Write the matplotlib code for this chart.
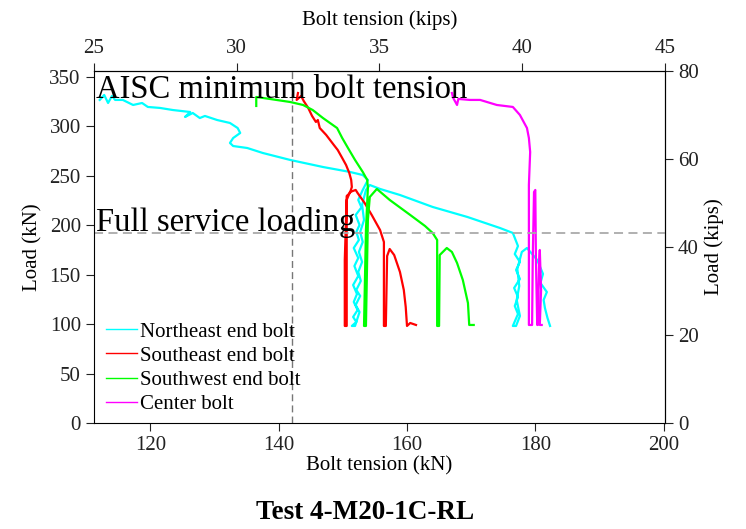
import matplotlib
matplotlib.use('Agg')
from matplotlib import pyplot as plt
from matplotlib.lines import Line2D

KIP = 4.44822

# bolt tension (kN) / load (kN) traces
ne_tension = [112.1, 112.8, 113.4, 114.0, 114.5, 115.7, 117.3, 118.7, 119.6, 121.5, 123.5, 126.2,
              125.4, 126.6, 127.7, 128.5, 130.4, 132.4, 133.6, 134.0, 132.9, 132.4, 132.9, 135.1,
              137.5, 141.8, 146.9, 151.1, 153.1, 153.9,
              153.1, 152.4, 152.9, 152.0, 152.6, 152.1, 152.5, 151.7, 152.4, 151.8, 152.4, 151.6,
              152.2, 151.7, 152.3, 151.6, 152.1, 151.4,
              151.9, 152.6, 152.0, 152.7, 152.1, 152.8, 152.4, 153.0, 152.5, 153.1, 152.7, 153.3,
              153.0, 153.6, 154.2, 155.8, 158.9,
              164.0, 169.4, 174.5, 176.5, 177.3, 176.8, 177.6, 177.0, 177.6, 176.7, 177.3, 176.8,
              177.3, 176.5, 177.0, 177.6, 177.1, 177.5, 177.2, 177.9, 178.7, 180.3, 181.2, 180.8,
              181.8, 181.3, 181.5, 181.9, 182.3]
ne_load = [326.6, 331.6, 323.5, 330.6, 326.6, 326.6, 321.5, 323.5, 319.5, 318.5, 316.4, 314.4,
           309.4, 313.4, 308.3, 310.4, 306.3, 303.3, 298.2, 293.2, 288.1, 283.1, 280.0, 278.0,
           273.0, 265.9, 258.8, 253.8, 250.7, 245.7,
           235.6, 225.5, 218.0, 210.3, 200.2, 193.1, 185.0, 176.9, 166.8, 158.7, 148.6, 139.5,
           130.4, 122.4, 114.2, 107.2, 102.1, 98.1,
           98.1, 112.2, 119.3, 128.4, 134.5, 143.6, 152.7, 162.8, 172.9, 183.0, 193.1, 205.2,
           220.4, 235.6, 240.6, 236.6, 230.5,
           218.4, 208.3, 197.1, 192.1, 178.9, 170.8, 162.8, 154.7, 145.6, 136.5, 127.4, 118.3,
           110.2, 98.1, 98.1, 108.2, 124.4, 138.5, 155.7, 172.9, 176.9, 164.8, 150.7, 141.6,
           132.4, 124.4, 116.3, 106.2, 98.1]

se_tension = [143.0, 142.8, 143.5, 143.9, 144.6, 145.2, 145.8, 146.1, 146.4, 147.4, 148.0, 148.6,
              149.2, 149.9, 150.5, 151.0, 151.3, 151.4, 151.1, 150.6, 150.3, 150.3, 150.6, 150.6,
              151.1, 152.0, 152.3, 153.4, 154.5, 155.8, 156.4, 156.4, 156.7, 156.9, 157.3, 158.0,
              158.9, 159.5, 159.8, 160.0, 160.5, 161.4]
se_load = [333.6, 326.6, 330.6, 325.5, 318.5, 310.4, 304.3, 306.3, 298.2, 291.2, 286.1, 281.0,
           276.0, 267.9, 260.8, 252.8, 245.7, 238.6, 232.5, 229.5, 164.8, 98.1, 98.1, 225.5,
           233.5, 235.6, 232.5, 222.4, 210.3, 195.1, 183.0, 98.1, 98.1, 168.8, 175.9, 169.8,
           152.7, 134.5, 117.3, 98.1, 101.1, 99.1]

sw_tension = [136.5, 136.5, 138.6, 141.8, 143.8, 145.3, 146.9, 149.1, 149.9, 150.8, 151.9, 153.1,
              153.8, 153.9, 153.6, 153.3, 153.6, 153.9, 154.2, 155.3, 157.3, 160.5, 162.8, 164.0,
              164.7, 164.7, 165.0, 165.1, 166.2, 167.0, 167.8, 168.7, 169.5, 169.7, 170.4]
sw_load = [320.5, 329.6, 327.6, 324.5, 321.5, 316.4, 308.3, 298.2, 288.1, 278.0, 265.9, 253.8,
           245.7, 237.6, 195.1, 98.1, 98.1, 205.2, 228.5, 236.6, 225.5, 210.3, 199.2, 192.1,
           185.0, 98.1, 98.1, 169.8, 176.9, 172.9, 161.8, 144.6, 121.3, 99.1, 99.1]

c_tension = [167.0, 167.2, 167.8, 168.0, 169.8, 171.4, 174.0, 176.5, 177.6, 178.7, 179.0, 179.2,
             179.0, 179.0, 179.5, 179.6, 179.8, 180.0, 180.1, 180.3, 180.4, 180.6, 180.7, 180.9,
             180.7, 181.0]
c_load = [333.6, 328.6, 321.5, 327.6, 326.6, 326.6, 321.5, 319.5, 311.4, 298.2, 288.1, 274.0,
          240.6, 99.1, 99.1, 164.8, 233.5, 235.6, 164.8, 99.1, 99.1, 164.8, 174.9, 134.5,
          99.1, 99.1]

aisc_min = 142.0
service_load = 192.0

labels = ['Northeast end bolt', 'Southeast end bolt', 'Southwest end bolt', 'Center bolt']
colors = ['#00ffff', '#ff0000', '#00ff00', '#ff00ff']

plt.rcParams['font.family'] = ['Liberation Serif', 'DejaVu Serif']

fig = plt.figure(figsize=(7.46, 5.29), dpi=100)
ax = fig.add_axes([0.126, 0.2004, 0.765, 0.6654])

series = [(ne_tension, ne_load), (se_tension, se_load), (sw_tension, sw_load), (c_tension, c_load)]
for (t, l), col in zip(series, colors):
    ax.plot(t, l, color=col, lw=1.6)

ax.axhline(service_load, color='#aaaaaa', ls=(0, (5, 3)), lw=1.3)
ax.axvline(aisc_min, color='#777777', ls=(0, (5, 3)), lw=1.0)

ax.text(111.5, 328.5, 'AISC minimum bolt tension', fontsize=23.5, va='baseline')
ax.text(111.5, 194, 'Full service loading', fontsize=23.5, va='baseline')

ax.set_xlim(25 * KIP, 45 * KIP)
ax.set_ylim(0, 80 * KIP)
ax.set_xticks([120, 140, 160, 180, 200])
ax.set_yticks(range(0, 351, 50))
ax.set_xlabel('Bolt tension (kN)', fontsize=15, labelpad=1)
ax.set_ylabel('Load (kN)', fontsize=15, labelpad=5)
ax.tick_params(direction='out', length=6, labelsize=15, colors='#222222')

top = ax.secondary_xaxis('top', functions=(lambda v: v / KIP, lambda v: v * KIP))
top.set_xticks([25, 30, 35, 40, 45])
top.set_xlabel('Bolt tension (kips)', fontsize=15, labelpad=10)
top.tick_params(direction='out', length=6, labelsize=15, colors='#222222')

right = ax.secondary_yaxis('right', functions=(lambda v: v / KIP, lambda v: v * KIP))
right.set_yticks([0, 20, 40, 60, 80])
right.set_ylabel('Load (kips)', fontsize=15, labelpad=4)
right.tick_params(direction='out', length=6, labelsize=15, colors='#222222')

handles = [Line2D([], [], color=c, lw=1) for c in colors]
ax.legend(handles, labels, loc='lower left', bbox_to_anchor=(0.0, -0.01), frameon=False,
          fontsize=15, handlelength=1.45, handletextpad=0.15, labelspacing=0.22, borderaxespad=0.2)

fig.text(0.49, 0.018, 'Test 4-M20-1C-RL', fontsize=19.5, fontweight='bold', ha='center')

fig.savefig('out.png', dpi=100)
